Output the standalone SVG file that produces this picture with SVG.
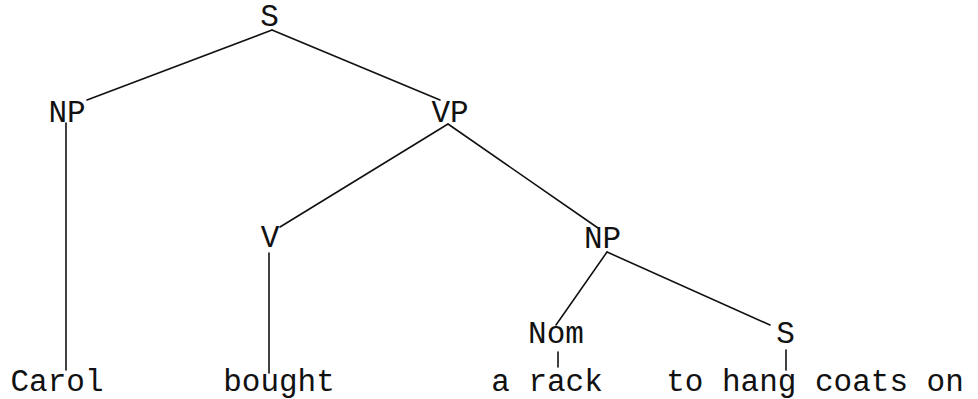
<svg xmlns="http://www.w3.org/2000/svg" width="978" height="399" viewBox="0 0 978 399">
  <style>
    .lbl { font-family: "Liberation Mono", "Courier New", monospace; font-size: 31px; fill: #111; text-anchor: middle; }
    .edge { stroke: #111; stroke-width: 1.6; fill: none; stroke-linecap: round; }
  </style>
  <rect x="0" y="0" width="978" height="399" fill="#fff"/>

  <!-- tree branches -->
  <g id="connectors">
    <line class="edge" x1="272" y1="30" x2="87" y2="100"/>
    <line class="edge" x1="272" y1="30" x2="440" y2="100"/>
    <line class="edge" x1="66" y1="123" x2="66" y2="370"/>
    <line class="edge" x1="448" y1="124" x2="280" y2="227"/>
    <line class="edge" x1="448" y1="124" x2="598" y2="228"/>
    <line class="edge" x1="269" y1="253" x2="269" y2="373"/>
    <line class="edge" x1="607" y1="252" x2="556" y2="325"/>
    <line class="edge" x1="607" y1="252" x2="770" y2="325"/>
    <line class="edge" x1="558" y1="352" x2="558" y2="367"/>
    <line class="edge" x1="786" y1="350" x2="786" y2="370"/>
  </g>

  <!-- category labels -->
  <g id="s-root"><text class="lbl" x="269.5" y="26">S</text></g>
  <g id="np-subject"><text class="lbl" x="67" y="122">NP</text></g>
  <g id="vp"><text class="lbl" x="450" y="122">VP</text></g>
  <g id="v"><text class="lbl" x="270" y="247">V</text></g>
  <g id="np-object"><text class="lbl" x="602.5" y="248">NP</text></g>
  <g id="nom"><text class="lbl" x="556" y="343">Nom</text></g>
  <g id="s-relative"><text class="lbl" x="785.5" y="343">S</text></g>

  <!-- terminal words -->
  <g id="w-carol"><text class="lbl" x="57" y="391">Carol</text></g>
  <g id="w-bought"><text class="lbl" x="279" y="391">bought</text></g>
  <g id="w-a-rack"><text class="lbl" x="547" y="391">a rack</text></g>
  <g id="w-to-hang"><text class="lbl" x="815" y="391">to hang coats on</text></g>
</svg>
